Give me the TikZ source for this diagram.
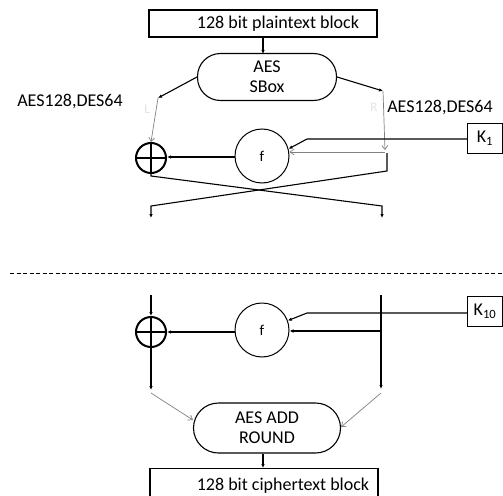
\documentclass[tikz,border=0pt]{standalone}
\usepackage{fontspec}
\setmainfont{Carlito}
\usetikzlibrary{arrows.meta}
\begin{document}
\begin{tikzpicture}[x=1pt,y=-1pt,
  txt/.style={font=\fontsize{18}{20}\selectfont},
  blk/.style={draw, line width=1.1pt, inner sep=0pt},
  pill/.style={draw, line width=1.1pt, rounded corners=23pt, align=center, txt, inner sep=0pt},
  xorc/.style={draw, circle, line width=2pt, minimum size=30pt, inner sep=0pt},
  fc/.style={draw, circle, line width=1pt, minimum size=54pt, inner sep=0pt, font=\fontsize{15}{15}\selectfont},
  kbox/.style={draw, line width=1pt, minimum width=35pt, minimum height=30pt, inner sep=0pt, txt},
  bl/.style={line width=1.1pt, -{Latex[length=4pt,width=3.5pt]}},
  gr/.style={draw=gray, line width=0.7pt, -{Straight Barb[length=4pt,width=6pt]}},
  faint/.style={text=gray!22, font=\fontsize{13}{13}\selectfont}
]
\useasboundingbox (0,0) rectangle (503,495);

% top block
\node[blk, minimum width=228pt, minimum height=27pt, txt] (pt) at (263,23.5) {\hspace*{30pt}128 bit plaintext block};
\node[pill, minimum width=139pt, minimum height=47pt] (sbox) at (267,77) {AES\\SBox};
\draw[bl] (pt.south -| 263,0) -- (263,54);

\coordinate (lt) at (158,98);
\coordinate (rt) at (383,91);
\draw[bl] (sbox.west) -- (lt);
\draw[bl] (sbox.east) -- (rt);

\node[txt] (lab1) at (70,102) {AES128,DES64};
\node[txt] (lab2) at (440,108) {AES128,DES64};
\node[faint] (Lf) at (147,109) {L};
\node[faint] (Rf) at (374,107) {R};

\node[xorc] (x1) at (151,158) {};
\draw[line width=1.8pt] (x1.north) -- (x1.south) (x1.west) -- (x1.east);
\node[fc] (f1) at (262,156) {f};
\node[kbox] (k1) at (485,138) {K\textsubscript{1}};

\draw[gr] (lt) -- (x1.north);
\coordinate (rm) at (385,150);
\draw[gr] (rt) -- (rm);
\draw[gr] (385,152) -- (f1.east |- 0,152);
\coordinate (kb) at (307,139);
\draw[bl] (k1.west |- kb) -- (kb) -- (f1.15);
\draw[bl] (f1.west |- 0,157) -- (x1.east |- 0,157);

% cross
\coordinate (ra) at (387,153);
\coordinate (rb) at (387,171);
\coordinate (la) at (151,176);
\coordinate (lo) at (151,218);
\coordinate (ro) at (382,218);
\draw[bl] (x1.south) -- (la) -- (382,206) -- (ro);
\draw[bl] (ra) -- (rb) -- (151,206) -- (lo);

% dashed separator
\coordinate (d1) at (10,273);
\coordinate (d2) at (503,273);
\draw[line width=0.6pt, dash pattern=on 4pt off 2.5pt] (d1) -- (d2);

% bottom round
\node[xorc] (x2) at (151,332) {};
\draw[line width=1.8pt] (x2.north) -- (x2.south) (x2.west) -- (x2.east);
\node[fc] (f2) at (262,330) {f};
\node[kbox] (k2) at (485,311.5) {K\textsubscript{10}};

\coordinate (lt2) at (151,295);
\coordinate (rt2) at (381,295);
\coordinate (lb2) at (151,390);
\coordinate (rb2) at (381,389);
\draw[bl] (lt2) -- (x2.north);
\draw[bl] (rt2) -- (rb2);
\coordinate (kb2) at (307,313);
\draw[bl] (k2.west |- kb2) -- (kb2) -- (f2.20);
\draw[bl] (rt2 |- 0,331) -- (f2.east |- 0,331);
\draw[bl] (f2.west |- 0,332) -- (x2.east);
\draw[bl] (x2.south) -- (lb2);

\node[pill, minimum width=147pt, minimum height=50pt, rounded corners=25pt] (add) at (267,428) {AES ADD\\ROUND};
\draw[gr] (151,393) -- (add.west |- 0,420);
\draw[gr] (381,393) -- (add.east |- 0,427);

\node[blk, minimum width=228pt, minimum height=34pt, txt, anchor=north] (ct) at (264,468) {\hspace*{38pt}128 bit ciphertext block};
\draw[bl] (add.south -| 263,0) -- (ct.north -| 263,0);
\end{tikzpicture}
\end{document}
